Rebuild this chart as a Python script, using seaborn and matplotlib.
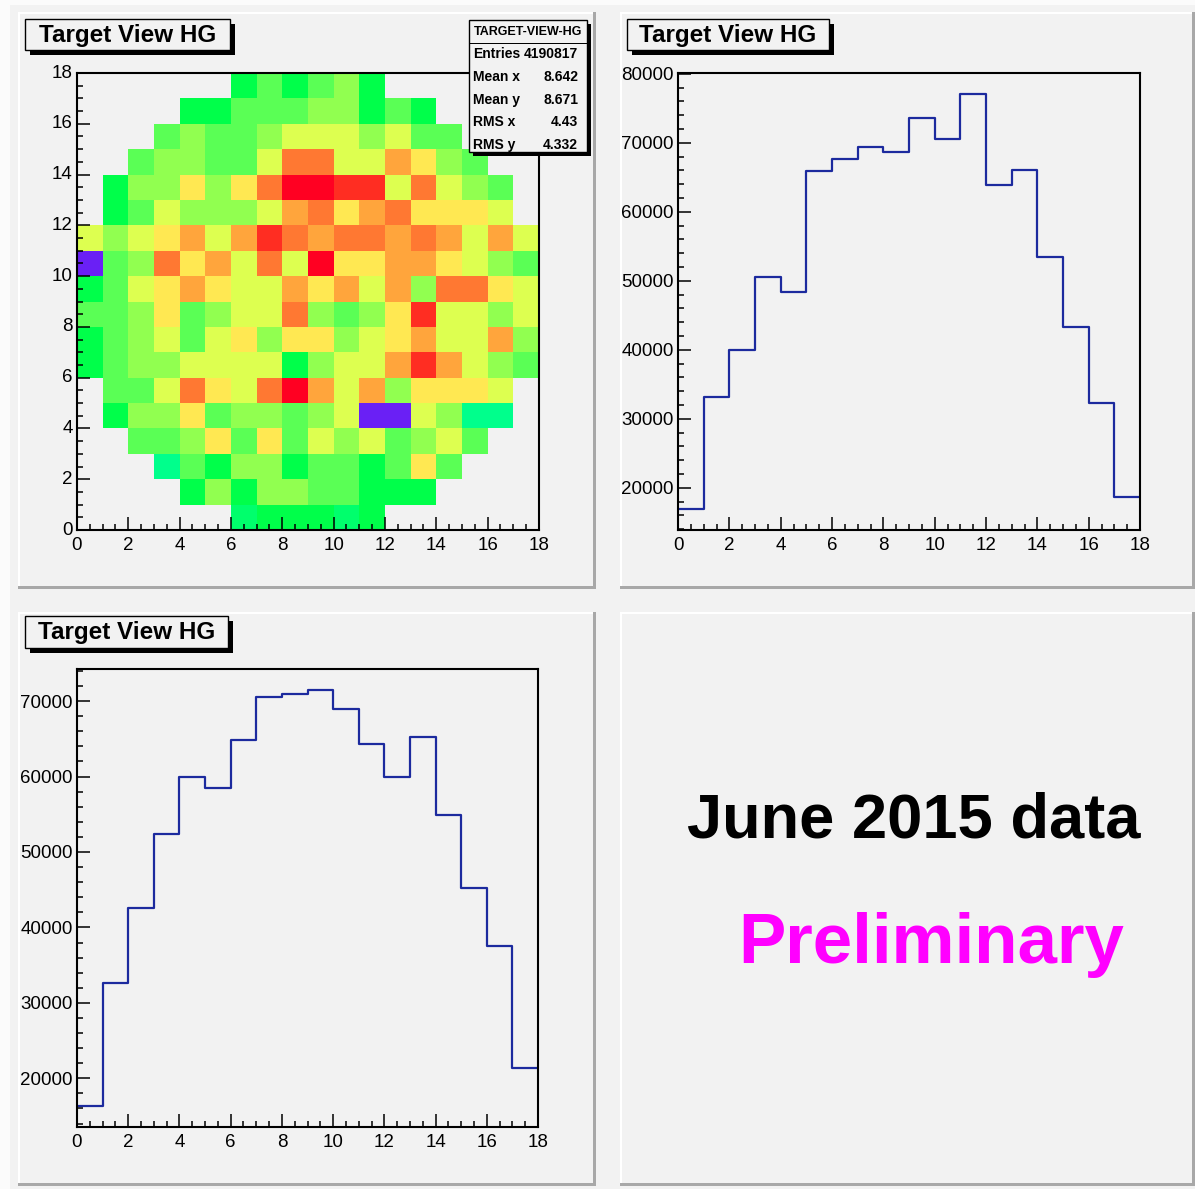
import numpy as np
import pandas as pd
import matplotlib
matplotlib.use("Agg")
import matplotlib.pyplot as plt
from matplotlib.colors import ListedColormap, BoundaryNorm
from matplotlib.patches import Rectangle
from matplotlib.ticker import MultipleLocator, FuncFormatter
import seaborn as sns

# ---------------- data ----------------
bin_edges = list(range(19))            # 0 .. 18
bin_centers = [b + 0.5 for b in range(18)]

# 1-D projections (counts per bin)
top_right_counts = [16900, 33200, 40000, 50600, 48400, 65900, 67600, 69400, 68700,
                    73600, 70500, 77100, 63900, 66100, 53400, 43300, 32300, 18700]
bottom_left_counts = [16300, 32600, 42600, 52400, 60000, 58500, 64800, 70600, 70900,
                      71500, 68900, 64300, 60000, 65300, 54900, 45200, 37500, 21300]

# 2-D target map: colour class per cell, top row = y bin 17, '.' = empty
grid_rows = [
    "......GgGglG......",
    "....GGgggllGgG....",
    "...glgglyyylygg...",
    "..gllggyOOyyoYlg..",
    ".GllYlYORRrryOylg.",
    ".GgylllyoOYoOYYYy.",
    "ylyYoyorOoOOoOoyoy",
    "PglOYoyOyRYYooYylg",
    "GgyYoYyyoYoyolOOYy",
    "gglYglyyOlglYryyly",
    "GglygyYlYYlyYoyyol",
    "GgllyyyyGlyyoroylg",
    ".ggyOYyORoyolYYYy.",
    ".GllYgllglyPPylTT.",
    "..gglYgYgylyglyg..",
    "...TgGllGggGgYg...",
    "....GlGllggGGG....",
    "......tGGGtG......",
]
# estimated cell content (thousands of entries) for each colour class
class_codes = ["P", "T", "t", "G", "g", "l", "y", "Y", "o", "O", "r", "R"]
class_values = [1.0, 11.5, 12.2, 12.8, 13.6, 14.7, 16.3, 17.8, 19.7, 21.3, 23.0, 24.0]
class_colors = ["#6a20f5", "#00ff8c", "#00ff6c", "#00ff4a", "#5aff55", "#91ff50",
                "#ddff50", "#ffe852", "#ffa53c", "#ff7832", "#ff2d22", "#ff0022"]

stats_title = "TARGET-VIEW-HG"
stats_labels = ["Entries", "Mean x", "Mean y", "RMS x", "RMS y"]
stats_values = ["4190817", "8.642", "8.671", "4.43", "4.332"]
pad_title = "Target View HG"
note_text = "June 2015 data"
prelim_text = "Preliminary"

# ---------------- style ----------------
W, H = 1195, 1189
BG = "#f2f2f2"
plt.rcParams['font.family'] = ['Liberation Sans', 'DejaVu Sans']
plt.rcParams['axes.linewidth'] = 1.5

fig = plt.figure(figsize=(W / 100, H / 100), dpi=100, facecolor=BG)


def frect(x0, y0, x1, y1, **kw):
    return Rectangle((x0 / W, 1 - y1 / H), (x1 - x0) / W, (y1 - y0) / H,
                     transform=fig.transFigure, **kw)


# canvas highlight border (left / top)
fig.add_artist(frect(0, 0, 10, H, facecolor="#fbfbfb", edgecolor="none", zorder=-6))
fig.add_artist(frect(0, 0, W, 5, facecolor="#fbfbfb", edgecolor="none", zorder=-6))


def add_pad(x0, y0, x1, y1):
    fig.add_artist(frect(x0, y0, x1, y1, facecolor=BG, edgecolor="none", zorder=-5))
    fig.add_artist(frect(x0, y0, x1, y0 + 2, facecolor="white", edgecolor="none", zorder=-4))
    fig.add_artist(frect(x0, y0, x0 + 2, y1, facecolor="white", edgecolor="none", zorder=-4))
    fig.add_artist(frect(x0, y1 - 3, x1, y1, facecolor="#a8a8a8", edgecolor="none", zorder=-4))
    fig.add_artist(frect(x1 - 3, y0, x1, y1, facecolor="#a8a8a8", edgecolor="none", zorder=-4))


def add_title(x0, y0, x1, y1):
    fig.add_artist(frect(x0 + 5, y0 + 5, x1 + 5, y1 + 5, facecolor="black", edgecolor="none", zorder=6))
    fig.add_artist(frect(x0, y0, x1, y1, facecolor=BG, edgecolor="black", linewidth=1.0, zorder=7))
    fig.text((x0 + x1) / 2 / W, 1 - ((y0 + y1) / 2 + 1) / H, pad_title, ha="center", va="center",
             fontsize=17.5, fontweight="bold", zorder=8)


def add_axes_px(x0, y0, x1, y1):
    ax = fig.add_axes([x0 / W, 1 - y1 / H, (x1 - x0) / W, (y1 - y0) / H])
    ax.set_facecolor(BG)
    return ax


def style_axis(ax):
    for s in ax.spines.values():
        s.set_visible(True)
        s.set_color("black")
        s.set_linewidth(1.5)
    ax.xaxis.set_major_locator(MultipleLocator(2))
    ax.xaxis.set_minor_locator(MultipleLocator(0.5))
    ax.tick_params(axis="both", which="major", direction="in", length=9.5, width=1.1,
                   labelsize=13.5, top=False, right=False, colors="black")
    ax.tick_params(axis="both", which="minor", direction="in", length=4.5, width=1.1,
                   top=False, right=False)
    ax.tick_params(axis="x", which="major", pad=5)
    ax.tick_params(axis="y", which="major", pad=3)
    ax.set_xlabel("")
    ax.set_ylabel("")


# pads
add_pad(18, 12, 596, 589)
add_pad(620, 12, 1195, 589)
add_pad(18, 612, 596, 1186)
add_pad(620, 612, 1195, 1186)

# ---------------- 2-D map ----------------
val_of = dict(zip(class_codes, class_values))
grid = np.array([[val_of.get(c, np.nan) for c in row] for row in grid_rows[::-1]])
df_map = pd.DataFrame(grid, index=range(18), columns=range(18))
bounds = [0] + [(a + b) / 2 for a, b in zip(class_values[:-1], class_values[1:])] + [30]
cmap = ListedColormap(class_colors)
norm = BoundaryNorm(bounds, cmap.N)

ax1 = add_axes_px(77, 73, 539, 530)
sns.heatmap(df_map, ax=ax1, cmap=cmap, norm=norm, cbar=False, linewidths=0)
ax1.set_xlim(0, 18)
ax1.set_ylim(0, 18)
ax1.set_xticks(range(0, 19, 2))
ax1.set_xticklabels([str(v) for v in range(0, 19, 2)], rotation=0)
ax1.set_yticks(range(0, 19, 2))
ax1.set_yticklabels([str(v) for v in range(0, 19, 2)], rotation=0)
style_axis(ax1)
ax1.yaxis.set_minor_locator(MultipleLocator(0.5))

# stats box
sx0, sy0, sx1, sy1 = 469, 20, 587, 152
fig.add_artist(frect(sx0 + 4, sy0 + 4, sx1 + 4, sy1 + 4, facecolor="black", edgecolor="none", zorder=6))
fig.add_artist(frect(sx0, sy0, sx1, sy1, facecolor=BG, edgecolor="black", linewidth=1.0, zorder=7))
fig.add_artist(frect(sx0, 43, sx1, 44, facecolor="black", edgecolor="none", zorder=8))
fig.text((sx0 + sx1) / 2 / W, 1 - 32 / H, stats_title, ha="center", va="center",
         fontsize=9, fontweight="bold", zorder=9)
for i, (lab, val) in enumerate(zip(stats_labels, stats_values)):
    yc = 54 + i * 22.8
    fig.text(473 / W, 1 - yc / H, lab, ha="left", va="center", fontsize=10, fontweight="bold", zorder=9)
    fig.text(578 / W, 1 - yc / H, val, ha="right", va="center", fontsize=10, fontweight="bold", zorder=9)

add_title(25, 19, 230, 50)

# ---------------- 1-D histograms ----------------
LINE = "#1c2a9e"


def draw_hist(ax, counts):
    d = pd.DataFrame({"x": bin_centers, "w": counts})
    sns.histplot(data=d, x="x", weights="w", bins=bin_edges, element="step", fill=False,
                 color=LINE, linewidth=1.6, ax=ax)
    lo, hi = min(counts), max(counts)
    rng = hi - lo
    ax.set_xlim(0, 18)
    ax.set_ylim(lo - 0.05 * rng, hi + 0.05 * rng)
    ax.yaxis.set_major_locator(MultipleLocator(10000))
    ax.yaxis.set_minor_locator(MultipleLocator(2000))
    ax.yaxis.set_major_formatter(FuncFormatter(lambda v, p: f"{int(round(v))}"))
    ax.xaxis.set_major_formatter(FuncFormatter(lambda v, p: f"{int(round(v))}"))
    style_axis(ax)


ax2 = add_axes_px(678, 73, 1140, 530)
draw_hist(ax2, top_right_counts)
add_title(627, 19, 829, 50)

ax3 = add_axes_px(77, 669, 538, 1127)
draw_hist(ax3, bottom_left_counts)
add_title(25, 616, 228, 648)

# ---------------- text pad ----------------
fig.text(687 / W, 1 - 838 / H, note_text, ha="left", va="baseline", fontsize=45.5,
         fontweight="bold", color="black")
fig.text(738 / W, 1 - 963 / H, prelim_text, ha="left", va="baseline", fontsize=51,
         fontweight="bold", color="#ff00ff")

fig.savefig("out.png", dpi=100, facecolor=fig.get_facecolor())
